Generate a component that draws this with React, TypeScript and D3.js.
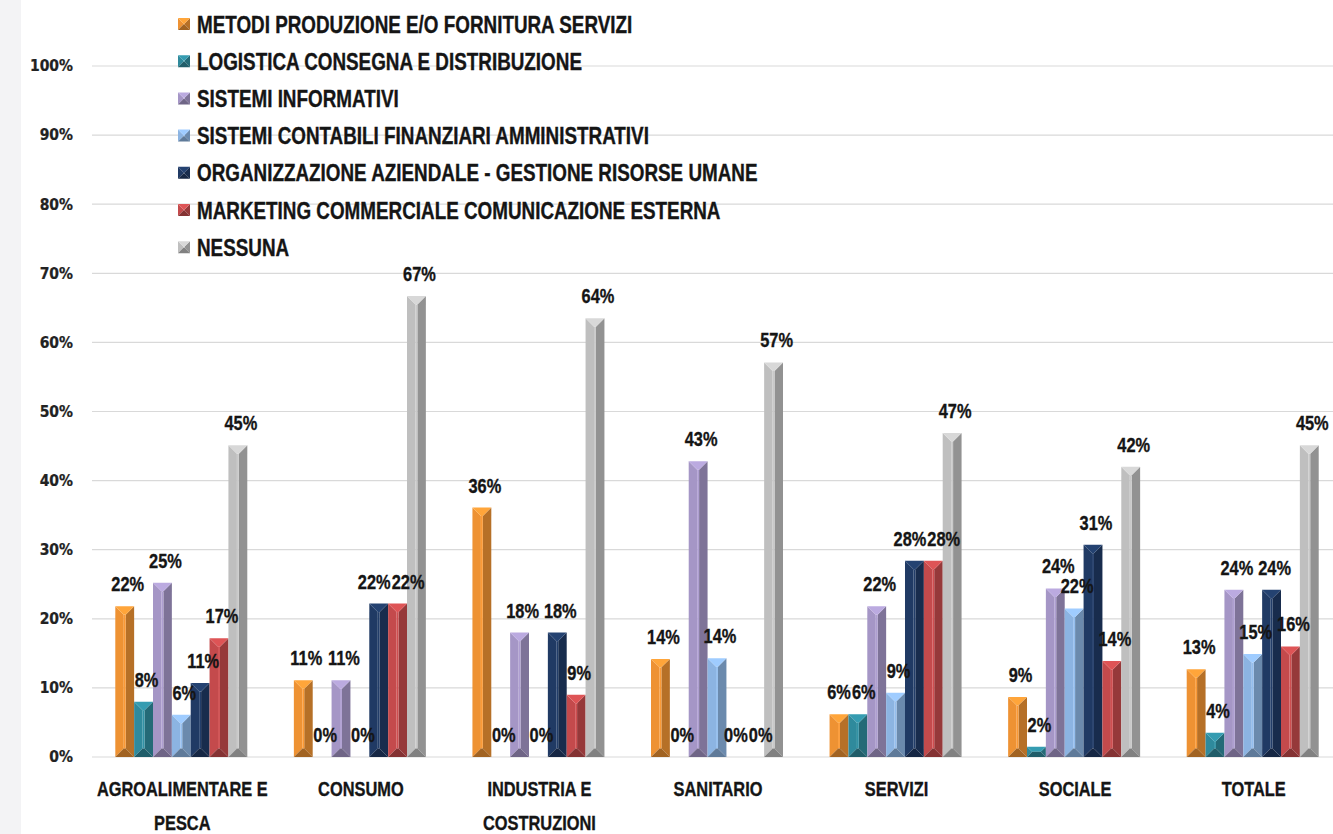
import React from "react";
import * as d3 from "d3";

const categories = ["AGRO", "CONSUMO", "INDUSTRIA", "SANITARIO", "SERVIZI", "SOCIALE", "TOTALE"];
const categoryLabels = [
  ["AGROALIMENTARE E", "PESCA"],
  ["CONSUMO"],
  ["INDUSTRIA E", "COSTRUZIONI"],
  ["SANITARIO"],
  ["SERVIZI"],
  ["SOCIALE"],
  ["TOTALE"],
];
const seriesNames = [
  "METODI PRODUZIONE E/O FORNITURA SERVIZI",
  "LOGISTICA CONSEGNA E DISTRIBUZIONE",
  "SISTEMI INFORMATIVI",
  "SISTEMI CONTABILI FINANZIARI AMMINISTRATIVI",
  "ORGANIZZAZIONE AZIENDALE - GESTIONE RISORSE UMANE",
  "MARKETING COMMERCIALE COMUNICAZIONE ESTERNA",
  "NESSUNA",
];
const seriesColors = ["#EE9233", "#2F8A9C", "#A596C6", "#8CB4E2", "#203A64", "#C44A4C", "#BFBFBF"];

const metodi = [0.218, 0.111, 0.361, 0.142, 0.062, 0.087, 0.127];
const logistica = [0.08, 0, 0, 0, 0.062, 0.015, 0.035];
const sistemiInformativi = [0.252, 0.111, 0.18, 0.428, 0.218, 0.244, 0.242];
const sistemiContabili = [0.061, 0, 0, 0.143, 0.093, 0.215, 0.149];
const organizzazione = [0.107, 0.222, 0.18, 0, 0.284, 0.307, 0.242];
const marketing = [0.172, 0.222, 0.09, 0, 0.284, 0.139, 0.16];
const nessuna = [0.451, 0.667, 0.635, 0.571, 0.469, 0.42, 0.451];
const seriesValues = [metodi, logistica, sistemiInformativi, sistemiContabili, organizzazione, marketing, nessuna];

const yTicks = [0, 0.1, 0.2, 0.3, 0.4, 0.5, 0.6, 0.7, 0.8, 0.9, 1.0];

const W = 1333;
const H = 834;
const SANS = "'Liberation Sans', Arial, sans-serif";
const WIDE = "'DejaVu Sans', Verdana, sans-serif";
const NARROW_SCALE = 0.82;
const INK = "#151515";

function NarrowText({
  x,
  y,
  size,
  anchor = "start",
  children,
}: {
  x: number;
  y: number;
  size: number;
  anchor?: "start" | "middle" | "end";
  children: React.ReactNode;
}) {
  return (
    <text
      transform={`translate(${x},${y}) scale(${NARROW_SCALE},1)`}
      textAnchor={anchor}
      fontFamily={SANS}
      fontWeight="bold"
      fontSize={size}
      fill={INK}
      stroke={INK}
      strokeWidth={0.35}
    >
      {children}
    </text>
  );
}

function Bar3D({ x, y, w, h, color }: { x: number; y: number; w: number; h: number; color: string }) {
  if (h <= 0.5) return null;
  const b = Math.min(w * 0.45, h / 2);
  const x0 = x, x1 = x + w, y0 = y, yb = y + h;
  const c = d3.rgb(color);
  const top = c.brighter(0.35).formatHex();
  const left = c.formatHex();
  const front = c.brighter(0.15).formatHex();
  const right = c.darker(0.75).formatHex();
  const bottom = c.darker(1.1).formatHex();
  const pts = (a: number[][]) => a.map((p) => p.join(",")).join(" ");
  return (
    <g>
      <polygon points={pts([[x0, y0], [x0 + b, y0 + b], [x0 + b, yb - b], [x0, yb]])} fill={left} />
      <polygon points={pts([[x1, y0], [x1 - b, y0 + b], [x1 - b, yb - b], [x1, yb]])} fill={right} />
      <rect x={x0 + b} y={y0 + b} width={Math.max(0, w - 2 * b)} height={Math.max(0, h - 2 * b)} fill={front} />
      <polygon points={pts([[x0, y0], [x1, y0], [x1 - b, y0 + b], [x0 + b, y0 + b]])} fill={top} />
      <polygon points={pts([[x0, yb], [x1, yb], [x1 - b, yb - b], [x0 + b, yb - b]])} fill={bottom} />
    </g>
  );
}

// approximate width of a percent label in narrow bold
function labelWidth(s: string, size: number) {
  let em = 0;
  for (const ch of s) em += ch === "%" ? 0.889 : 0.556;
  return em * size * NARROW_SCALE;
}

export default function App() {
  const x0 = d3.scaleBand<string>().domain(categories).range([92, 1342]).padding(0);
  const x1 = d3
    .scaleBand<number>()
    .domain(d3.range(seriesNames.length))
    .range([0, x0.bandwidth()])
    .paddingInner(0)
    .paddingOuter(1.235);
  const y = d3.scaleLinear().domain([0, 1]).range([757, 66]);
  const fmt = (v: number) => `${Math.round(v * 100)}%`;
  const LABEL_SIZE = 20;

  // data label layout with simple horizontal de-overlap inside each group
  const labelLayout = categories.map((c, ci) => {
    const items = seriesValues.map((vals, si) => {
      const v = vals[ci];
      const text = fmt(v);
      return {
        si,
        text,
        x: (x0(c) ?? 0) + (x1(si) ?? 0) + x1.bandwidth() / 2 + 3,
        y: y(v) - 15,
        w: labelWidth(text, LABEL_SIZE),
      };
    });
    for (let iter = 0; iter < 6; iter++) {
      for (let i = 0; i < items.length; i++) {
        for (let j = i + 1; j < items.length; j++) {
          const a = items[i], b = items[j];
          if (Math.abs(a.y - b.y) >= 15) continue;
          const need = (a.w + b.w) / 2 + 1;
          const gap = b.x - a.x;
          if (gap < need) {
            const push = (need - gap) / 2;
            a.x -= push;
            b.x += push;
          }
        }
      }
    }
    return items;
  });

  return (
    <div style={{ position: "absolute", left: 0, top: 0 }}>
      <svg width={W} height={H} style={{ display: "block", background: "#ffffff" }}>
        <rect x={0} y={0} width={21} height={H} fill="#f3f3f5" />
        {yTicks.map((t) => (
          <line key={t} x1={92} x2={W} y1={y(t)} y2={y(t)} stroke="#d9d9d9" strokeWidth={1.2} />
        ))}
        {yTicks.map((t) => (
          <text
            key={"yl" + t}
            x={73}
            y={y(t)}
            dy="0.36em"
            textAnchor="end"
            fontFamily={WIDE}
            fontWeight="bold"
            fontSize={15}
            fill="#222"
            stroke="#222"
            strokeWidth={0.25}
            transform={`translate(73,0) scale(0.93,1) translate(-73,0)`}
          >
            {fmt(t)}
          </text>
        ))}
        {seriesNames.map((s, i) => {
          const cy = 24 + i * 37.2;
          return (
            <g key={s}>
              <Bar3D x={178} y={cy - 6} w={12} h={12} color={seriesColors[i]} />
              <NarrowText x={197} y={cy + 8.5} size={23}>
                {s}
              </NarrowText>
            </g>
          );
        })}
        {categories.map((c, ci) => (
          <g key={c}>
            {seriesValues.map((vals, si) => {
              const v = vals[ci];
              const bx = (x0(c) ?? 0) + (x1(si) ?? 0);
              return (
                <Bar3D key={si} x={bx} y={y(v)} w={x1.bandwidth()} h={y(0) - y(v)} color={seriesColors[si]} />
              );
            })}
          </g>
        ))}
        {labelLayout.map((items, ci) => (
          <g key={"dl" + ci}>
            {items.map((it) => (
              <NarrowText key={it.si} x={it.x} y={it.y} size={LABEL_SIZE} anchor="middle">
                {it.text}
              </NarrowText>
            ))}
          </g>
        ))}
        {categories.map((c, ci) =>
          categoryLabels[ci].map((line, li) => (
            <NarrowText
              key={"cl" + c + li}
              x={(x0(c) ?? 0) + x0.bandwidth() / 2 + 1}
              y={796 + li * 34}
              size={20}
              anchor="middle"
            >
              {line}
            </NarrowText>
          ))
        )}
      </svg>
    </div>
  );
}
